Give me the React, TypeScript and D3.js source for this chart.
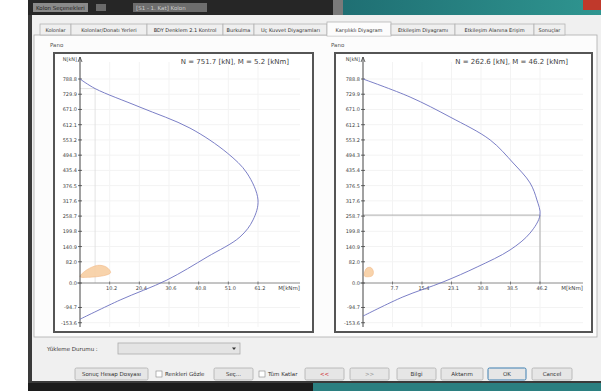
import * as d3 from "d3";

// N axis ticks (kN), shared by both diagrams
const nTicks = [-153.6, -94.7, 0, 82.0, 140.9, 199.8, 258.7, 317.6, 376.5, 435.4, 494.3, 553.2, 612.1, 671.0, 729.9, 788.8];

// left diagram
const leftMTicks = [10.2, 20.4, 30.6, 40.8, 51.0, 61.2];
const leftCurveM = [0, 5.2, 20.6, 37.8, 50.6, 57.4, 61.2, 59.5, 55.0, 43.7, 29.9, 13.8, 0];
const leftCurveN = [788.8, 751.7, 680, 599, 503, 425, 321, 244, 178, 100.5, 11.6, -65.7, -140];
const leftLoadM = [0, 2.5, 6, 9, 10.5, 8, 3];
const leftLoadN = [25, 52, 68, 62, 40, 28, 22];
const leftPoint = { m: 5.2, n: 751.7 };

// right diagram
const rightMTicks = [7.7, 15.4, 23.1, 30.8, 38.5, 46.2];
const rightCurveM = [0, 12.3, 22.7, 33.2, 39.2, 43.6, 45.4, 46.2, 43.6, 38.4, 29.8, 20.9, 10.4, 0];
const rightCurveN = [788.8, 719, 642, 553, 464, 387, 321, 262.6, 193, 128, 62, 4, -54, -128];
const rightLoadM = [0.3, 0.8, 2.0, 2.7, 2.4, 1.0];
const rightLoadN = [30, 55, 60, 45, 28, 24];
const rightPoint = { m: 46.2, n: 262.6 };

const tabLabels = [
  "Kolonlar",
  "Kolonlar/Donatı Yerleri",
  "BDY Denklem 2.1 Kontrol",
  "Burkulma",
  "Uç Kuvvet Diyagramları",
  "Karşılıklı Diyagram",
  "Etkileşim Diyagramı",
  "Etkileşim Alanına Erişim",
  "Sonuçlar",
];
const selectedTab = 5;

const FONT = "'DejaVu Sans', sans-serif";

type PanelProps = {
  x0: number;
  x1: number;
  axisX: number;
  mMaxX: number;
  axisEnd: number;
  mTicks: number[];
  curveM: number[];
  curveN: number[];
  loadM: number[];
  loadN: number[];
  point: { m: number; n: number };
  pointColor: string;
};

function Panel(p: PanelProps) {
  const top = 53;
  const bottom = 332;
  const y = d3.scaleLinear().domain([0, 788.8]).range([283, 79]);
  const mMax = p.mTicks[p.mTicks.length - 1];
  const x = d3.scaleLinear().domain([0, mMax]).range([p.axisX, p.mMaxX]);

  const curve = d3
    .line<number>()
    .x((i) => x(p.curveM[i]))
    .y((i) => y(p.curveN[i]))
    .curve(d3.curveCatmullRom)(p.curveM.map((_, i) => i));

  const blob = d3
    .line<number>()
    .x((i) => x(p.loadM[i]))
    .y((i) => y(p.loadN[i]))
    .curve(d3.curveCardinalClosed)(p.loadM.map((_, i) => i));

  const title = `N = ${p.point.n.toFixed(1)} [kN], M = ${p.point.m.toFixed(1)} [kNm]`;

  return (
    <g>
      <text x={p.x0 - 4} y={47} fontSize={5.5} fill="#555" fontFamily={FONT}>
        Pano
      </text>
      <rect x={p.x0} y={top} width={p.x1 - p.x0} height={bottom - top} fill="#fff" stroke="#555" strokeWidth={2} />
      {/* faint grid */}
      {nTicks.map((t) => (
        <line key={"gy" + t} x1={p.axisX} x2={p.axisEnd} y1={y(t)} y2={y(t)} stroke="#f3f3f3" strokeWidth={1} />
      ))}
      {p.mTicks.map((t) => (
        <line key={"gx" + t} x1={x(t)} x2={x(t)} y1={62} y2={327} stroke="#f3f3f3" strokeWidth={1} />
      ))}
      {/* crosshair */}
      <line x1={p.axisX} x2={x(p.point.m)} y1={y(p.point.n)} y2={y(p.point.n)} stroke={p.pointColor} strokeWidth={0.8} />
      <line x1={x(p.point.m)} x2={x(p.point.m)} y1={y(p.point.n)} y2={y(0)} stroke={p.pointColor} strokeWidth={0.8} />
      {/* load region */}
      <path d={blob ?? ""} fill="#f8cfa3" stroke="#f2b27a" strokeWidth={0.6} opacity={0.9} />
      {/* M axis */}
      <line x1={p.axisX - 3} x2={p.axisEnd} y1={y(0)} y2={y(0)} stroke="#777" strokeWidth={0.8} />
      {p.mTicks.map((t) => (
        <g key={"xt" + t}>
          <line x1={x(t)} x2={x(t)} y1={y(0) - 1.5} y2={y(0) + 1.5} stroke="#555" strokeWidth={0.7} />
          <text x={x(t) + 2} y={y(0) + 7} fontSize={5} fill="#444" textAnchor="middle" fontFamily={FONT}>
            {t.toFixed(1)}
          </text>
        </g>
      ))}
      <text x={p.axisEnd} y={y(0) + 7} fontSize={5.5} fill="#444" textAnchor="end" fontFamily={FONT}>
        M[kNm]
      </text>
      {/* N axis */}
      <line x1={p.axisX} x2={p.axisX} y1={57} y2={327} stroke="#444" strokeWidth={1} />
      <path d={`M${p.axisX - 2},62 L${p.axisX},57 L${p.axisX + 2},62`} fill="none" stroke="#444" strokeWidth={0.8} />
      <text x={p.axisX - 3} y={61} fontSize={5} fill="#444" textAnchor="end" fontFamily={FONT}>
        N[kN]
      </text>
      {nTicks.map((t) => (
        <g key={"yt" + t}>
          <line x1={p.axisX - 2} x2={p.axisX + 2} y1={y(t)} y2={y(t)} stroke="#444" strokeWidth={0.8} />
          <text x={p.axisX - 3} y={y(t) + 2} fontSize={5} fill="#444" textAnchor="end" fontFamily={FONT}>
            {t.toFixed(1)}
          </text>
        </g>
      ))}
      {/* interaction curve */}
      <path d={curve ?? ""} fill="none" stroke="#6c70c0" strokeWidth={0.9} />
      <text x={p.x1 - 24} y={64} fontSize={7} fill="#444" textAnchor="end" fontFamily={FONT}>
        {title}
      </text>
    </g>
  );
}

function Button({ x, w, label, color = "#333", focus = false }: { x: number; w: number; label: string; color?: string; focus?: boolean }) {
  return (
    <g>
      <rect x={x} y={368} width={w} height={12} rx={1.5} fill="#e6e6e6" stroke={focus ? "#3c7fb1" : "#adadad"} strokeWidth={focus ? 1 : 0.8} />
      <text x={x + w / 2} y={376} fontSize={5.5} fill={color} textAnchor="middle" fontFamily={FONT}>
        {label}
      </text>
    </g>
  );
}

function Check({ x, label }: { x: number; label: string }) {
  return (
    <g>
      <rect x={x} y={371} width={6} height={6} fill="#fff" stroke="#888" strokeWidth={0.6} />
      <text x={x + 9} y={376} fontSize={5.5} fill="#333" fontFamily={FONT}>
        {label}
      </text>
    </g>
  );
}

export default function App() {
  // tab positions from label lengths
  const tabX: number[] = [];
  let cx = 40;
  tabLabels.forEach((t) => {
    tabX.push(cx);
    cx += t.length * 3.0 + 7;
  });

  return (
    <div style={{ position: "fixed", left: 0, top: 0 }}>
      <svg width={601} height={391} viewBox="0 0 601 391" style={{ display: "block" }}>
        <defs>
          <linearGradient id="teal" x1="0" x2="1" y1="0" y2="0">
            <stop offset="0" stopColor="#1f6f73" />
            <stop offset="1" stopColor="#2f9590" />
          </linearGradient>
        </defs>
        <rect x={0} y={0} width={601} height={391} fill="#fff" />
        {/* window frame */}
        <rect x={28} y={0} width={573} height={383} fill="#3a3a3a" />
        <rect x={32} y={15} width={569} height={366} fill="#f0f0f0" />
        {/* title bar */}
        <rect x={28} y={0} width={305} height={15} fill="#262626" />
        <rect x={33} y={3} width={55} height={9} fill="#8a8a8a" />
        <text x={36} y={10} fontSize={5.5} fill="#222" fontFamily={FONT}>Kolon Seçenekleri</text>
        <rect x={96} y={4} width={10} height={7} fill="#6a6a6a" />
        <rect x={133} y={3} width={74} height={9} fill="#6d6d6d" />
        <text x={136} y={10} fontSize={5.5} fill="#ccc" fontFamily={FONT}>[S1 - 1. Kat] Kolon</text>
        <rect x={333} y={0} width={10} height={15} fill="#7a7a7a" />
        <rect x={343} y={0} width={258} height={15} fill="url(#teal)" />
        <rect x={583} y={0} width={18} height={10} fill="#c0392b" />
        {/* tabs */}
        <rect x={34} y={35} width={563} height={302} fill="#fcfcfc" stroke="#adadad" strokeWidth={0.8} />
        {tabLabels.map((t, i) => {
          const w = t.length * 3.0 + 7;
          const sel = i === selectedTab;
          return (
            <g key={t}>
              <rect x={tabX[i]} y={sel ? 22 : 24} width={w} height={sel ? 14 : 11} fill={sel ? "#fcfcfc" : "#efefef"} stroke="#adadad" strokeWidth={0.7} />
              <text x={tabX[i] + w / 2} y={31.5} fontSize={5} fill="#333" textAnchor="middle" fontFamily={FONT}>
                {t}
              </text>
            </g>
          );
        })}
        <line x1={tabX[selectedTab] + 0.5} x2={tabX[selectedTab] + tabLabels[selectedTab].length * 3.0 + 6.5} y1={35} y2={35} stroke="#fcfcfc" strokeWidth={1.2} />

        <Panel
          x0={54}
          x1={313}
          axisX={80}
          mMaxX={258}
          axisEnd={300}
          mTicks={leftMTicks}
          curveM={leftCurveM}
          curveN={leftCurveN}
          loadM={leftLoadM}
          loadN={leftLoadN}
          point={leftPoint}
          pointColor="#dcdcdc"
        />
        <Panel
          x0={335}
          x1={592}
          axisX={363}
          mMaxX={540}
          axisEnd={583}
          mTicks={rightMTicks}
          curveM={rightCurveM}
          curveN={rightCurveN}
          loadM={rightLoadM}
          loadN={rightLoadN}
          point={rightPoint}
          pointColor="#9a9a9a"
        />

        {/* load case selector */}
        <text x={47} y={351} fontSize={5.5} fill="#333" fontFamily={FONT}>Yükleme Durumu :</text>
        <rect x={118} y={343} width={122} height={11} fill="#e4e4e4" stroke="#acacac" strokeWidth={0.8} />
        <path d="M232,347.5 L236,347.5 L234,350 Z" fill="#333" />

        {/* bottom buttons */}
        <Button x={75} w={73} label="Sonuç Hesap Dosyası" />
        <Check x={156} label="Renkleri Gözle" />
        <Button x={214} w={39} label="Seç..." />
        <Check x={259} label="Tüm Katlar" />
        <Button x={305} w={39} label="<<" color="#d03030" />
        <Button x={350} w={39} label=">>" color="#999" />
        <Button x={397} w={39} label="Bilgi" />
        <Button x={441} w={42} label="Aktarım" />
        <Button x={488} w={38} label="OK" focus />
        <Button x={532} w={40} label="Cancel" />

        {/* taskbar strip */}
        <rect x={28} y={383} width={285} height={8} fill="#1c1c1c" />
        <rect x={313} y={383} width={288} height={8} fill="#2b7f80" />
      </svg>
    </div>
  );
}
